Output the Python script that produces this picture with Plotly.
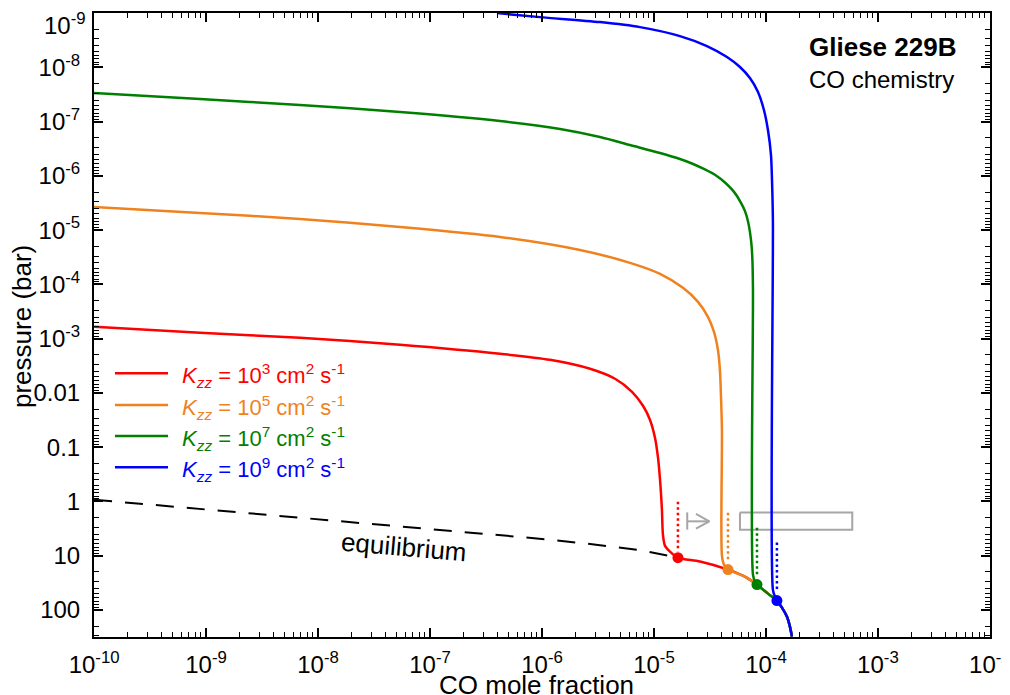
import plotly.graph_objects as go

# ---------------- data (as log10 values) ----------------
# Kzz = 1e3 cm2/s
red_lx = [-10.0, -9.054, -8.161, -7.268, -6.375, -5.929, -5.571, -5.348, -5.196, -5.098,
          -5.036, -4.991, -4.964, -4.946, -4.929, -4.920, -4.902, -4.857, -4.786]
red_lp = [-3.217, -3.107, -3.015, -2.886, -2.720, -2.610, -2.444, -2.260, -2.020, -1.762,
          -1.505, -1.173, -0.805, -0.400, 0.153, 0.613, 0.816, 0.926, 1.037]
# Kzz = 1e5 cm2/s
orange_lx = [-10.0, -9.054, -8.161, -7.268, -6.375, -5.661, -5.214, -4.946, -4.741, -4.607,
             -4.518, -4.464, -4.429, -4.411, -4.402, -4.393, -4.393, -4.375, -4.339]
orange_lp = [-5.427, -5.317, -5.206, -5.059, -4.875, -4.635, -4.396, -4.193, -3.936, -3.678,
             -3.401, -3.125, -2.794, -2.425, -1.965, -1.320, 1.000, 1.166, 1.258]
# Kzz = 1e7 cm2/s
green_lx = [-10.0, -9.054, -8.161, -7.268, -6.375, -5.839, -5.482, -5.214, -4.946, -4.768,
            -4.661, -4.545, -4.446, -4.366, -4.304, -4.259, -4.223, -4.188, -4.161, -4.143,
            -4.129, -4.121, -4.116, -4.116, -4.098, -4.080]
green_lp = [-7.527, -7.416, -7.306, -7.177, -7.011, -6.864, -6.716, -6.569, -6.422, -6.311,
            -6.228, -6.118, -6.007, -5.878, -5.750, -5.630, -5.501, -5.354, -5.169, -4.967,
            -4.727, -4.451, -3.899, 1.350, 1.479, 1.534]
# Kzz = 1e9 cm2/s
blue_lx = [-6.402, -6.018, -5.482, -5.125, -4.768, -4.527, -4.348, -4.232, -4.143, -4.071,
           -4.018, -3.982, -3.955, -3.946, -3.938, -3.938, -3.920, -3.902]
blue_lp = [-9.000, -8.926, -8.834, -8.742, -8.576, -8.392, -8.190, -8.006, -7.803, -7.545,
           -7.214, -6.845, -6.385, -5.924, -5.188, 1.626, 1.755, 1.829]

# deep chemical-equilibrium profile shared by every run
eq_deep_lx = [-4.786, -4.589, -4.339, -4.188, -4.080, -3.982, -3.902, -3.857, -3.813, -3.786, -3.768]
eq_deep_lp = [1.037, 1.110, 1.258, 1.387, 1.534, 1.700, 1.829, 1.958, 2.123, 2.308, 2.492]
# index in the deep profile where each run's quench point sits
quench_index = [0, 2, 4, 6]

# upper equilibrium profile (dashed)
eq_up_lx = [-10.0, -7.964, -5.929, -5.482, -5.125, -4.786]
eq_up_lp = [-0.031, 0.337, 0.705, 0.807, 0.899, 1.037]

# dotted markers above the quench points (log10 pressure, top and bottom)
dot_top_lp = [0.006, 0.208, 0.484, 0.760]
dot_bot_lp = [0.926, 1.110, 1.387, 1.663]

kzz_exp = [3, 5, 7, 9]
colors = ["#ff0000", "#f0821e", "#008000", "#0000ff"]

# grey range box and arrow (log10 values)
box_lx = [-4.232, -3.229]
box_lp = [0.203, 0.521]
arrow_lx = [-4.703, -4.506]
arrow_head_lx = -4.625
arrow_lp = 0.368
arrow_head_lp = [0.232, 0.503]

x_tickvals = [1e-10, 1e-9, 1e-8, 1e-7, 1e-6, 1e-5, 1e-4, 1e-3, 1e-2]
x_ticktext = ["10<sup>-10</sup>", "10<sup>-9</sup>", "10<sup>-8</sup>", "10<sup>-7</sup>",
              "10<sup>-6</sup>", "10<sup>-5</sup>", "10<sup>-4</sup>", "10<sup>-3</sup>",
              "10<sup>-2</sup>"]
y_tickvals = [1e-9, 1e-8, 1e-7, 1e-6, 1e-5, 1e-4, 1e-3, 1e-2, 1e-1, 1, 10, 100]
# the top label (10^-9) is drawn as an annotation so that it is not clipped
y_top_label = "10<sup>-9</sup>"
y_ticktext = ["", "10<sup>-8</sup>", "10<sup>-7</sup>", "10<sup>-6</sup>",
              "10<sup>-5</sup>", "10<sup>-4</sup>", "10<sup>-3</sup>", "0.01", "0.1",
              "1", "10", "100"]


def lin(vals):
    return [10.0 ** v for v in vals]


FONT = "Arial, Liberation Sans, sans-serif"
gray = "#a6a6a6"

fig = go.Figure()

# equilibrium dashed
fig.add_trace(go.Scatter(x=lin(eq_up_lx), y=lin(eq_up_lp), mode="lines",
                         line=dict(color="black", width=2, dash="18px,13px"),
                         showlegend=False, hoverinfo="skip"))

# grey box and arrow
fig.add_trace(go.Scatter(x=lin([box_lx[0], box_lx[1], box_lx[1], box_lx[0], box_lx[0]]),
                         y=lin([box_lp[0], box_lp[0], box_lp[1], box_lp[1], box_lp[0]]),
                         mode="lines", line=dict(color=gray, width=2),
                         showlegend=False, hoverinfo="skip"))
ax = lin([arrow_lx[0], arrow_lx[0]]) + [None] + lin(arrow_lx) + [None] + \
    lin([arrow_head_lx, arrow_lx[1], arrow_head_lx])
ay = lin(box_lp) + [None] + lin([arrow_lp, arrow_lp]) + [None] + \
    lin([arrow_head_lp[0], arrow_lp, arrow_head_lp[1]])
fig.add_trace(go.Scatter(x=ax, y=ay, mode="lines", line=dict(color=gray, width=2),
                         showlegend=False, hoverinfo="skip"))

# dotted quench indicators
for qi, pt, pb, c in zip(quench_index, dot_top_lp, dot_bot_lp, colors):
    qx = 10.0 ** eq_deep_lx[qi]
    fig.add_trace(go.Scatter(x=[qx, qx], y=lin([pt, pb]), mode="lines",
                             line=dict(color=c, width=2.5, dash="2.5px,3px"),
                             showlegend=False, hoverinfo="skip"))

# curves
curves = [(red_lx, red_lp), (orange_lx, orange_lp), (green_lx, green_lp), (blue_lx, blue_lp)]
for (cx, cp), qi, c in zip(curves, quench_index, colors):
    xs = lin(cx + eq_deep_lx[qi + 1:])
    ps = lin(cp + eq_deep_lp[qi + 1:])
    fig.add_trace(go.Scatter(x=xs, y=ps, mode="lines",
                             line=dict(color=c, width=2.5, shape="spline", smoothing=0.8),
                             showlegend=False, hoverinfo="skip"))

# quench dots
for qi, c in zip(quench_index, colors):
    fig.add_trace(go.Scatter(x=[10.0 ** eq_deep_lx[qi]], y=[10.0 ** eq_deep_lp[qi]],
                             mode="markers", marker=dict(color=c, size=11, line=dict(width=0)),
                             showlegend=False, hoverinfo="skip"))

# manual legend
leg_y = [0.4226, 0.3718, 0.3221, 0.2720]
for e, c, yy in zip(kzz_exp, colors, leg_y):
    fig.add_shape(type="line", xref="paper", yref="paper", x0=0.0234, x1=0.0826,
                  y0=yy, y1=yy, line=dict(color=c, width=2.5))
    fig.add_annotation(xref="paper", yref="paper", x=0.0960, y=yy - 0.004,
                       xanchor="left", yanchor="middle", showarrow=False,
                       text=f"<i>K</i><sub><i>zz</i></sub> = 10<sup>{e}</sup> cm<sup>2</sup> s<sup>-1</sup>",
                       font=dict(family=FONT, size=22, color=c))

fig.add_annotation(xref="paper", yref="paper", x=(958 - 94) / 896, y=(637 - 47) / 624,
                   xanchor="right", yanchor="middle", showarrow=False,
                   text="<b>Gliese 229B</b>", font=dict(family=FONT, size=26, color="black"))
fig.add_annotation(xref="paper", yref="paper", x=(956 - 94) / 896, y=(637 - 80) / 624,
                   xanchor="right", yanchor="middle", showarrow=False,
                   text="CO chemistry", font=dict(family=FONT, size=24, color="black"))
fig.add_annotation(xref="paper", yref="paper", x=(404 - 94) / 896, y=(637 - 547) / 624,
                   xanchor="center", yanchor="middle", showarrow=False, textangle=5,
                   text="equilibrium", font=dict(family=FONT, size=26, color="black"))

# top y tick label
fig.add_annotation(xref="paper", yref="paper", x=(87 - 94) / 896, y=(637 - 8) / 624,
                   xanchor="right", yanchor="top", showarrow=False, borderpad=0,
                   text=y_top_label, font=dict(family=FONT, size=24, color="black"))

# axis titles
fig.add_annotation(xref="paper", yref="paper", x=(536 - 94) / 896, y=(637 - 685) / 624,
                   xanchor="center", yanchor="middle", showarrow=False, borderpad=0,
                   text="CO mole fraction", font=dict(family=FONT, size=26, color="black"))
fig.add_annotation(xref="paper", yref="paper", x=(22 - 94) / 896, y=(637 - 327) / 624,
                   xanchor="center", yanchor="middle", showarrow=False, textangle=-90,
                   text="pressure (bar)", font=dict(family=FONT, size=26, color="black"))

axis_common = dict(showline=True, linecolor="black", linewidth=2, mirror="ticks",
                   ticks="inside", ticklen=9, tickwidth=1.5, tickcolor="black",
                   showgrid=False, zeroline=False, automargin=False,
                   ticklabeloverflow="allow",
                   tickfont=dict(family=FONT, size=24, color="black"),
                   minor=dict(ticks="inside", ticklen=5, tickwidth=1.2, tickcolor="black",
                              dtick="D1", showgrid=False))

fig.update_xaxes(type="log", range=[-10.001, -1.999], tickmode="array", tickvals=x_tickvals,
                 ticktext=x_ticktext, ticklabelstandoff=5, **axis_common)
fig.update_yaxes(type="log", range=[2.5, -9.002], tickmode="array", tickvals=y_tickvals,
                 ticktext=y_ticktext, ticklabelstandoff=7, **axis_common)

# the page body adds an 8 px offset, so the margins are shifted to keep the
# plot frame at the reference position inside the 1010x695 window
fig.update_layout(width=1010, height=695, margin=dict(l=86, r=28, t=5, b=66),
                  plot_bgcolor="white", paper_bgcolor="white", showlegend=False,
                  font=dict(family=FONT, color="black"))

fig.write_html("out.html")
